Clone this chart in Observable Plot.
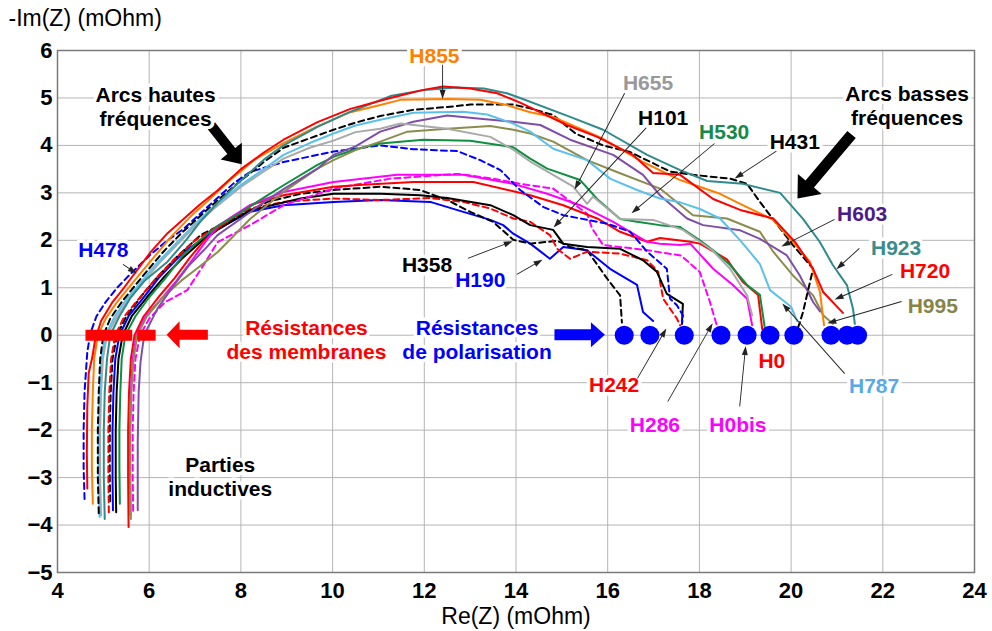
<!DOCTYPE html>
<html><head><meta charset="utf-8">
<script src="https://cdn.jsdelivr.net/npm/d3@7"></script>
<script src="https://cdn.jsdelivr.net/npm/@observablehq/plot@0.6"></script>
<style>
html,body{margin:0;padding:0;background:#fff;}
#chart svg{display:block;}
</style></head><body><div id="chart"></div>
<script>
// ---- Nyquist curves: [Re(Z), -Im(Z)] in mOhm ----
const H190 = [[5.21,-3.69],[5.2,-3.0],[5.2,-2.0],[5.22,-1.2],[5.26,-0.5],[5.35,0.0],[5.55,0.4],[5.88,0.8],[6.2,1.2],[6.55,1.55],[6.75,1.75],[7.49,2.24],[8.2,2.6],[8.93,2.74],[10.02,2.81],[11.04,2.85],[12.13,2.81],[12.85,2.6],[13.44,2.43],[13.72,2.32],[13.94,2.14],[14.31,1.93],[14.46,1.82],[14.74,1.61],[15.03,1.86],[15.55,1.79],[16.05,1.4],[16.64,1.06],[16.77,0.49],[16.99,0.3]];
const H358 = [[5.15,-3.5],[5.14,-3.0],[5.14,-2.0],[5.16,-1.2],[5.2,-0.5],[5.3,0.0],[5.5,0.4],[5.85,0.85],[6.2,1.25],[6.6,1.65],[7.12,2.11],[7.84,2.46],[8.58,2.81],[9.3,2.98],[10.02,3.06],[11.04,3.13],[11.91,3.06],[12.5,2.85],[13.0,2.6],[13.5,2.39],[13.94,2.01],[14.31,1.93],[14.9,1.99],[15.18,1.86],[15.55,1.79],[15.99,1.19],[16.27,0.84],[16.31,0.27]];
const H242 = [[5.12,-3.73],[5.11,-3.0],[5.11,-2.0],[5.13,-1.2],[5.17,-0.5],[5.26,0.0],[5.46,0.4],[5.8,0.8],[6.15,1.2],[6.55,1.6],[7.0,2.0],[7.5,2.3],[8.2,2.67],[9.0,2.82],[10.02,2.88],[11.04,2.85],[12.13,2.89],[12.85,2.81],[13.44,2.67],[13.94,2.46],[14.31,2.39],[14.74,2.11],[14.9,1.82],[15.18,1.61],[15.55,1.76],[16.27,1.72],[16.86,1.58],[17.1,1.34],[17.21,0.77],[17.51,0.35],[17.58,0.21]];
const H101 = [[5.28,-3.73],[5.27,-3.0],[5.27,-2.0],[5.29,-1.2],[5.33,-0.5],[5.42,0.0],[5.62,0.4],[5.95,0.8],[6.3,1.2],[6.7,1.6],[7.1,1.95],[7.49,2.22],[8.2,2.63],[9.3,2.88],[10.02,2.98],[11.04,2.98],[11.91,2.95],[12.5,2.89],[13.44,2.74],[13.94,2.53],[14.31,2.32],[14.81,2.22],[15.03,1.93],[15.55,1.86],[16.27,1.82],[16.77,1.58],[17.07,1.34],[17.29,0.87],[17.64,0.66],[17.62,0.24]];
const H286 = [[5.65,-3.7],[5.64,-3.0],[5.64,-2.0],[5.66,-1.2],[5.7,-0.5],[5.8,0.0],[6.0,0.35],[6.35,0.7],[6.83,0.95],[7.2,1.5],[7.49,1.96],[8.2,2.32],[8.93,2.74],[10.02,3.09],[11.26,3.3],[12.72,3.4],[13.5,3.3],[14.09,3.19],[14.81,3.09],[15.55,2.56],[15.66,2.25],[15.9,1.9],[16.8,1.8],[17.6,1.68],[18.01,1.33],[18.23,0.7],[18.39,0.17]];
const H0 = [[5.55,-4.04],[5.54,-3.0],[5.54,-2.0],[5.56,-1.2],[5.6,-0.5],[5.68,0.0],[5.88,0.4],[6.2,0.8],[6.55,1.2],[6.9,1.65],[7.2,2.0],[7.49,2.25],[8.2,2.74],[8.93,2.95],[10.02,3.13],[10.67,3.17],[11.76,3.23],[13.07,3.23],[14.31,2.95],[15.03,2.74],[15.77,2.46],[16.27,2.18],[16.86,1.97],[17.14,2.05],[17.8,1.97],[18.01,1.93],[18.6,1.6],[18.95,1.12],[19.28,0.85],[19.37,0.13]];
const H0bis = [[5.59,-3.8],[5.58,-3.0],[5.58,-2.0],[5.6,-1.2],[5.64,-0.5],[5.72,0.0],[5.92,0.4],[6.25,0.75],[6.6,1.15],[6.95,1.6],[7.25,2.0],[7.49,2.3],[8.2,2.74],[8.93,3.02],[10.02,3.23],[11.41,3.38],[12.85,3.38],[13.94,3.19],[14.68,2.98],[15.4,2.74],[16.12,2.39],[16.86,1.97],[17.14,1.93],[17.58,1.9],[17.8,1.93],[18.3,1.4],[18.73,1.06],[19.04,0.77],[19.15,0.21]];
const H478 = [[4.59,-3.45],[4.57,-2.8],[4.57,-2.0],[4.59,-1.2],[4.65,-0.35],[4.72,0.05],[4.85,0.4],[5.05,0.7],[5.3,1.0],[5.6,1.3],[6.03,1.7],[6.4,2.0],[6.75,2.24],[7.27,2.7],[7.84,3.2],[8.2,3.44],[8.93,3.65],[10.02,3.87],[11.04,4.0],[11.76,3.92],[12.72,3.88],[13.22,3.69],[13.66,3.48],[14.09,3.06],[14.6,2.7],[15.03,2.53],[15.99,2.35],[16.49,2.18],[16.86,1.76],[17.29,1.4],[17.36,0.77],[17.51,0.63],[17.64,0.42],[17.62,0.24]];
const H530 = [[5.36,-3.55],[5.35,-2.8],[5.35,-2.0],[5.37,-1.2],[5.4,-0.5],[5.48,0.0],[5.7,0.4],[6.0,0.8],[6.35,1.2],[6.75,1.7],[7.1,2.0],[7.49,2.3],[7.99,2.58],[8.5,2.9],[8.93,3.16],[9.67,3.59],[10.02,3.76],[10.5,3.92],[11.04,4.04],[11.98,4.12],[13.0,4.1],[13.94,3.96],[14.31,3.72],[14.68,3.51],[15.4,3.27],[15.77,2.87],[16.27,2.45],[16.64,2.39],[17.14,2.32],[17.58,2.28],[18.01,2.0],[18.3,1.79],[18.67,1.48],[19.04,1.06],[19.32,0.85],[19.43,0.13]];
const H995 = [[5.6,-3.87],[5.59,-3.0],[5.59,-2.0],[5.61,-1.2],[5.66,-0.5],[5.74,0.0],[5.95,0.4],[6.3,0.8],[6.7,1.15],[7.1,1.45],[7.49,1.75],[7.85,2.1],[8.2,2.45],[8.93,3.02],[9.67,3.51],[10.02,3.69],[10.5,3.9],[11.04,4.08],[11.63,4.29],[12.5,4.35],[13.44,4.41],[13.94,4.33],[14.31,4.25],[14.81,4.08],[15.55,3.69],[16.2,3.44],[17.14,3.09],[17.86,2.53],[18.6,2.46],[19.32,2.18],[19.61,1.76],[20.04,1.26],[20.48,0.84],[20.7,0.42],[20.91,0.24]];
const H603 = [[5.75,-3.69],[5.75,-3.0],[5.75,-2.25],[5.77,-1.2],[5.81,-0.57],[5.87,-0.14],[5.96,0.14],[6.18,0.56],[6.5,1.0],[6.85,1.45],[7.2,1.8],[7.49,2.11],[7.99,2.45],[8.5,2.8],[8.93,3.08],[9.67,3.51],[10.02,3.8],[10.5,3.98],[11.04,4.29],[11.76,4.5],[12.5,4.63],[13.22,4.56],[13.94,4.5],[14.53,4.43],[15.18,4.12],[16.12,3.8],[16.77,3.38],[17.14,2.95],[17.73,2.46],[18.08,2.32],[18.89,2.21],[19.32,2.03],[19.9,1.69],[20.19,1.26],[20.48,0.7],[20.63,0.5]];
const H655 = [[4.95,-3.8],[4.93,-3.0],[4.93,-2.0],[4.95,-1.2],[4.99,-0.5],[5.08,0.0],[5.3,0.4],[5.55,0.75],[5.85,1.1],[6.2,1.5],[6.6,1.9],[7.0,2.3],[7.45,2.7],[7.99,3.12],[8.5,3.45],[8.93,3.72],[9.5,3.95],[10.02,4.1],[10.5,4.28],[11.04,4.35],[11.48,4.46],[12.5,4.35],[13.44,4.18],[13.94,3.91],[14.31,3.66],[15.25,3.13],[15.55,2.77],[15.68,2.92],[16.27,2.45],[16.99,2.43],[17.64,2.22],[18.28,1.79],[18.67,1.4],[19.04,0.84],[19.15,0.42]];
const H787 = [[4.92,-3.83],[4.9,-3.0],[4.9,-2.0],[4.92,-1.2],[4.96,-0.5],[5.05,0.0],[5.25,0.4],[5.5,0.75],[5.8,1.1],[6.15,1.5],[6.55,1.9],[6.95,2.3],[7.4,2.7],[7.99,3.16],[8.5,3.5],[8.93,3.8],[9.5,4.05],[10.02,4.25],[10.5,4.42],[11.04,4.54],[11.76,4.69],[12.85,4.71],[13.37,4.65],[13.94,4.46],[14.31,4.29],[14.81,3.93],[15.55,3.69],[16.05,3.3],[16.64,3.06],[17.14,2.88],[17.58,2.8],[18.01,2.66],[18.45,2.46],[18.89,2.0],[19.32,1.5],[19.54,0.95],[20.0,0.6],[20.13,0.3]];
const H431 = [[4.9,-3.75],[4.88,-3.0],[4.88,-2.0],[4.9,-1.2],[4.93,-0.5],[5.0,0.0],[5.15,0.35],[5.4,0.7],[5.65,1.0],[5.95,1.35],[6.3,1.75],[6.7,2.15],[7.1,2.5],[7.5,2.85],[7.99,3.25],[8.5,3.65],[8.93,3.95],[9.5,4.15],[10.02,4.33],[10.5,4.48],[11.04,4.62],[11.76,4.75],[12.5,4.81],[13.0,4.86],[13.94,4.86],[14.31,4.78],[14.81,4.64],[15.3,4.25],[15.9,4.0],[16.49,3.86],[17.36,3.45],[17.86,3.38],[18.67,3.3],[19.04,3.19],[19.32,2.81],[19.76,2.25],[20.04,1.9],[20.48,1.4],[20.26,0.49],[20.2,0.3],[20.13,0.1]];
const H855 = [[4.77,-3.55],[4.75,-2.8],[4.75,-2.0],[4.77,-1.2],[4.8,-0.5],[4.88,0.0],[5.05,0.35],[5.3,0.7],[5.55,1.0],[5.85,1.35],[6.15,1.7],[6.5,2.1],[6.9,2.5],[7.3,2.85],[7.8,3.3],[8.3,3.7],[8.93,4.05],[9.67,4.4],[10.39,4.7],[11.04,4.85],[11.48,4.96],[12.5,4.98],[13.22,4.96],[13.8,4.85],[14.31,4.7],[14.81,4.6],[15.9,4.14],[16.77,3.65],[17.58,3.27],[18.45,2.98],[18.89,2.77],[19.61,2.43],[19.98,2.03],[20.41,1.55],[20.63,0.91],[20.7,0.35],[20.72,0.21]];
const H923 = [[5.03,-3.87],[5.01,-3.0],[5.01,-2.0],[5.03,-1.2],[5.08,-0.5],[5.15,0.0],[5.35,0.4],[5.6,0.8],[5.9,1.15],[6.4,1.55],[6.8,2.0],[7.12,2.4],[7.5,2.8],[7.99,3.25],[8.5,3.7],[8.93,4.0],[9.67,4.39],[10.39,4.71],[11.26,5.04],[12.0,5.17],[12.7,5.22],[13.3,5.2],[13.8,5.1],[14.09,5.0],[15.18,4.6],[15.9,4.33],[16.86,3.8],[17.58,3.48],[18.17,3.25],[18.95,3.19],[19.76,3.0],[20.26,2.45],[20.63,1.96],[20.91,1.48],[21.22,1.05],[21.35,0.56],[21.39,0.24]];
const H720 = [[4.65,-3.23],[4.64,-2.5],[4.65,-1.5],[4.68,-0.8],[4.76,-0.46],[4.82,-0.1],[4.95,0.3],[5.2,0.7],[5.45,1.0],[5.72,1.35],[6.03,1.75],[6.4,2.15],[6.75,2.45],[7.1,2.75],[7.49,3.05],[8.0,3.5],[8.5,3.85],[8.93,4.12],[9.67,4.49],[10.39,4.77],[11.26,5.0],[11.98,5.17],[12.41,5.24],[13.0,5.2],[13.59,5.1],[14.09,4.9],[15.11,4.43],[15.77,4.18],[16.55,3.8],[16.99,3.42],[17.58,3.38],[18.3,2.87],[18.89,2.64],[19.61,2.46],[20.1,1.95],[20.48,1.4],[20.7,0.91],[21.13,0.47]];

// polarisation resistances (blue dots on the real axis)
const polarisationR = [16.36, 16.92, 17.67, 18.47, 19.04, 19.54, 20.06, 20.87, 21.22, 21.45];
// membrane resistance ranges (red bars on the real axis)
const membraneStart = [4.61, 5.74];
const membraneEnd   = [5.63, 6.14];

const xTicks = [4, 6, 8, 10, 12, 14, 16, 18, 20, 22, 24];
const yTicks = [-5, -4, -3, -2, -1, 0, 1, 2, 3, 4, 5, 6];

// curve names in drawing order and their styles
const curveOrder = ["H190","H358","H242","H101","H286","H0","H0bis","H478","H530","H995","H603","H655","H787","H431","H855","H923","H720"];
const curveData = {H190,H358,H242,H101,H286,H0,H0bis,H478,H530,H995,H603,H655,H787,H431,H855,H923,H720};
const curveColor = {H190:"#0000ff",H358:"#000000",H242:"#ff0000",H101:"#000000",H286:"#ff00ff",H0:"#ff0000",H0bis:"#ff00ff",H478:"#0000ff",H530:"#0f8f3f",H995:"#8c8c4c",H603:"#7f4fa8",H655:"#a9a9a9",H787:"#5bc0eb",H431:"#000000",H855:"#ff8000",H923:"#2e8b8b",H720:"#ff0000"};
const dashedCurves = ["H358","H242","H286","H478","H431"];

// annotation labels [text, x, y]
const labelText  = ["H855","H655","H101","H530","H431","H603","H923","H720","H995","H787","H0","H0bis","H286","H242","H190","H358","H478",
  "Arcs hautes\nfréquences","Arcs basses\nfréquences","Résistances\ndes membranes","Résistances\nde polarisation","Parties\ninductives"];
const labelX = [12.22,16.88,17.21,18.54,20.08,21.55,22.29,22.92,23.09,21.81,19.58,18.84,17.03,16.14,13.22,12.06,5.0, 6.14,22.53,9.43,13.15,7.55];
const labelY = [5.91,5.34,4.6,4.29,4.08,2.56,1.86,1.37,0.64,-1.05,-0.52,-1.87,-1.87,-1.03,1.17,1.5,1.82, 4.83,4.85,-0.08,-0.08,-2.98];
const labelColor = ["#ff8000","#999999","#000000","#178a4a","#000000","#4b1a8c","#3d8c8c","#ff0000","#85854a","#5aa9e6","#ff0000","#ff00ff","#ff00ff","#ff0000","#0000ff","#000000","#0000ff",
  "#000000","#000000","#ff0000","#0000ff","#000000"];

// leader arrows: from label to curve [x1,y1,x2,y2]
const leaders = [[12.41,5.69,12.41,4.97],[16.38,5.09,15.29,3.06],[16.85,4.36,14.83,2.26],[18.34,4.03,16.53,2.56],[19.69,3.87,18.78,3.29],
  [20.96,2.43,19.8,1.86],[21.5,1.82,21.0,1.38],[22.22,1.27,20.96,0.74],[22.42,0.7,20.8,0.24],[21.18,-0.82,19.82,0.66],
  [18.89,-1.51,19.02,-0.24],[17.32,-1.41,18.3,0.24],[16.66,-0.92,17.29,0.13],[14.03,1.27,14.59,1.58],[12.96,1.61,13.94,1.97],[5.44,1.48,5.74,1.29]];
// big arrows [x1,y1,x2,y2]
const bigArrows = [[7.29,0,6.39,0],[14.85,0,15.95,0],[7.36,4.41,8.03,3.59],[21.33,4.22,20.15,2.87]];
const bigArrowColor = ["#ff0000","#0000ff","#000000","#000000"];
const bigArrowSize = [[10,13,27],[11,14,25],[10,17,27],[11,19,31]]; // shaft width, head length, head width (px)

// ---- build ----
const rows = [];
for (const name of curveOrder) curveData[name].forEach(([x, y], i) => rows.push({name, x, y, i}));

function arrowMark(list, sizes, colors) {
  return (index, scales, values, dimensions) => {
    const w = dimensions.width, h = dimensions.height;
    const sx = typeof scales.x === "function" ? scales.x
      : v => dimensions.marginLeft + (v - 4) / 20 * (w - dimensions.marginLeft - dimensions.marginRight);
    const sy = typeof scales.y === "function" ? scales.y
      : v => h - dimensions.marginBottom - (v + 5) / 11 * (h - dimensions.marginTop - dimensions.marginBottom);
    const g = d3.create("svg:g");
    list.forEach((a, k) => {
      const [sw, hl, hw] = sizes(k);
      const x1 = sx(a[0]), y1 = sy(a[1]), x2 = sx(a[2]), y2 = sy(a[3]);
      const dx = x2 - x1, dy = y2 - y1, L = Math.hypot(dx, dy);
      const ux = dx / L, uy = dy / L, nx = -uy, ny = ux;
      const bx = x2 - ux * hl, by = y2 - uy * hl;
      const p = [[x1 + nx*sw/2, y1 + ny*sw/2],[bx + nx*sw/2, by + ny*sw/2],[bx + nx*hw/2, by + ny*hw/2],[x2, y2],
                 [bx - nx*hw/2, by - ny*hw/2],[bx - nx*sw/2, by - ny*sw/2],[x1 - nx*sw/2, y1 - ny*sw/2]];
      g.append("path").attr("d", "M" + p.map(q => q[0].toFixed(2) + "," + q[1].toFixed(2)).join("L") + "Z")
        .attr("fill", colors(k));
    });
    return g.node();
  };
}

const labels = labelText.map((t, i) => ({t, x: labelX[i], y: labelY[i], c: labelColor[i]}));
const membrane = membraneStart.map((s, i) => ({x1: s, x2: membraneEnd[i]}));

const FONT = "'Liberation Sans', Arial, Helvetica, sans-serif";

const marks = [
  Plot.gridX(xTicks, {stroke: "#b4b4b4", strokeOpacity: 1, strokeWidth: 1}),
  Plot.gridY(yTicks, {stroke: "#b4b4b4", strokeOpacity: 1, strokeWidth: 1}),
  Plot.frame({stroke: "#7a7a7a", strokeWidth: 1.5}),
];
for (const name of curveOrder) {
  const dashed = dashedCurves.includes(name);
  marks.push(Plot.line(rows.filter(d => d.name === name), {
    x: "x", y: "y", stroke: curveColor[name], strokeWidth: 2,
    strokeDasharray: dashed ? "6,4" : null, curve: "linear"
  }));
}
marks.push(
  Plot.dot(polarisationR, {x: d => d, y: () => 0, r: 9.5, fill: "#0000ff", stroke: "none"}),
  Plot.link(membrane, {x1: "x1", x2: "x2", y1: () => 0, y2: () => 0, stroke: "#ff0000", strokeWidth: 11, strokeLinecap: "butt"}),
  arrowMark(bigArrows, k => bigArrowSize[k], k => bigArrowColor[k]),
  Plot.text(labels, {x: "x", y: "y", text: "t", fill: "c", fontSize: 21, fontWeight: "bold", fontFamily: FONT,
    lineHeight: 1.15, stroke: "white", strokeWidth: 7, paintOrder: "stroke", strokeLinejoin: "round"}),
  arrowMark(leaders, k => [0.9, 9, 6], k => "#222"),
  Plot.axisX(xTicks, {tickSize: 0, tickPadding: 10, fontSize: 22, fontWeight: "bold", fontFamily: FONT, label: null, fill: "#000"}),
  Plot.axisY(yTicks, {tickSize: 0, tickPadding: 5, fontSize: 22, fontWeight: "bold", fontFamily: FONT, label: null, fill: "#000"}),
  Plot.text(["-Im(Z) (mOhm)"], {frameAnchor: "top-left", dx: -49, dy: -32, textAnchor: "start", lineAnchor: "middle", fontSize: 23, fontFamily: FONT, fill: "#000"}),
  Plot.text(["Re(Z) (mOhm)"], {frameAnchor: "bottom", dy: 44, lineAnchor: "middle", fontSize: 23, fontFamily: FONT, fill: "#000"})
);

const chart = Plot.plot({
  width: 992, height: 631,
  marginTop: 50, marginRight: 18, marginBottom: 59, marginLeft: 57,
  x: {domain: [4, 24], label: null},
  y: {domain: [-5, 6], label: null},
  style: {fontFamily: FONT, background: "white", color: "black", overflow: "visible"},
  marks
});
document.getElementById("chart").appendChild(chart);
</script></body></html>
